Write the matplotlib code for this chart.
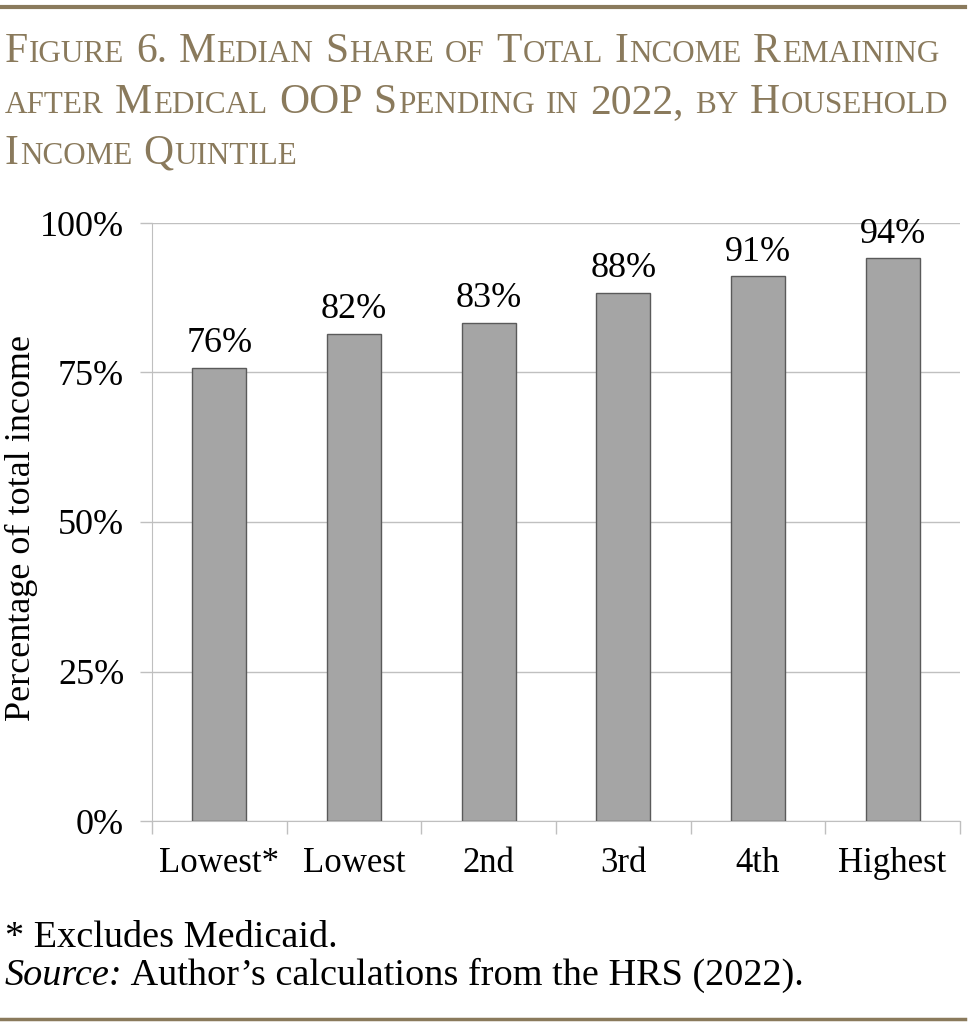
import numpy as np
import matplotlib
matplotlib.use("Agg")
import matplotlib.pyplot as plt
from matplotlib.transforms import IdentityTransform
from matplotlib.lines import Line2D

# Data
categorias = ["Lowest*", "Lowest", "2nd", "3rd", "4th", "Highest"]
valores = [75.8, 81.5, 83.3, 88.3, 91.1, 94.1]
etiquetas = ["76%", "82%", "83%", "88%", "91%", "94%"]
ticks_y = [0, 25, 50, 75, 100]
ticks_y_lbl = ["0%", "25%", "50%", "75%", "100%"]

titulo = ["Figure 6. Median Share of Total Income Remaining",
          "after Medical OOP Spending in 2022, by Household",
          "Income Quintile"]
nota = "* Excludes Medicaid."
fuente_it = "Source:"
fuente = " Author\u2019s calculations from the HRS (2022)."

oro = "#8A7A5C"
serif = "Liberation Serif"
plt.rcParams["font.family"] = serif

W, H, DPI = 971, 1024, 100
fig = plt.figure(figsize=(W / DPI, H / DPI), dpi=DPI)
ax = fig.add_axes([152 / W, 1 - 821 / H, 808 / W, 598 / H])

x = np.arange(len(categorias))
barras = ax.bar(x, valores, width=0.4, color="#A5A5A5", edgecolor="#5A5A5A",
                linewidth=1.0, zorder=3)
ax.bar_label(barras, labels=etiquetas, padding=5.5, fontsize=26, color="black")

ax.set_xlim(-0.5, len(categorias) - 0.5)
ax.set_ylim(0, 100)
ax.set_yticks(ticks_y)
ax.set_yticklabels(ticks_y_lbl, fontsize=26)
ax.set_xticks(x)
ax.set_xticklabels(categorias, fontsize=25)
ax.set_xticks(np.arange(len(categorias) + 1) - 0.5, minor=True)
ax.tick_params(axis="x", which="major", length=0, pad=19)
ax.tick_params(axis="x", which="minor", length=9, color="#BFBFBF", width=1)
ax.tick_params(axis="y", length=9, color="#BFBFBF", width=1, pad=11)
ax.grid(axis="y", color="#C0C0C0", linewidth=1.0, zorder=0)
for lado in ["top", "right"]:
    ax.spines[lado].set_visible(False)
ax.spines["left"].set_color("#BFBFBF")
ax.spines["bottom"].set_color("#BFBFBF")
ax.set_ylabel("Percentage of total income", fontsize=26)
ax.yaxis.set_label_coords(-0.141, 0.49)


def versalitas(x0, y0, texto, grande, chica, color):
    r = fig.canvas.get_renderer()
    trozos = []
    for ch in texto:
        if ch == " ":
            trozos.append((" ", None))
            continue
        tam = chica if ch.islower() else grande
        if trozos and trozos[-1][1] == tam:
            trozos[-1] = (trozos[-1][0] + ch.upper(), tam)
        else:
            trozos.append((ch.upper(), tam))
    xx = x0
    for s, tam in trozos:
        if tam is None:
            xx += grande * 0.25 * DPI / 72
            continue
        t = fig.text(xx, y0, s, fontsize=tam, color=color, va="baseline",
                     ha="left", transform=IdentityTransform())
        xx += t.get_window_extent(r).width + 1


for i, linea in enumerate(titulo):
    versalitas(5, H - (62 + 51 * i), linea, 30, 22.4, oro)

fig.add_artist(Line2D([0, 965], [H - 7, H - 7], color=oro, linewidth=3,
                      transform=IdentityTransform()))
fig.add_artist(Line2D([0, 965], [H - 1019, H - 1019], color=oro, linewidth=2.5,
                      transform=IdentityTransform()))

fig.text(5, H - 947, nota, fontsize=27.5, va="baseline", transform=IdentityTransform())
r = fig.canvas.get_renderer()
t = fig.text(5, H - 985, fuente_it, fontsize=27.5, style="italic", va="baseline",
             transform=IdentityTransform())
fig.text(5 + t.get_window_extent(r).width, H - 985, fuente, fontsize=27.5,
         va="baseline", transform=IdentityTransform())

fig.savefig("out.png", dpi=DPI, facecolor="white")
